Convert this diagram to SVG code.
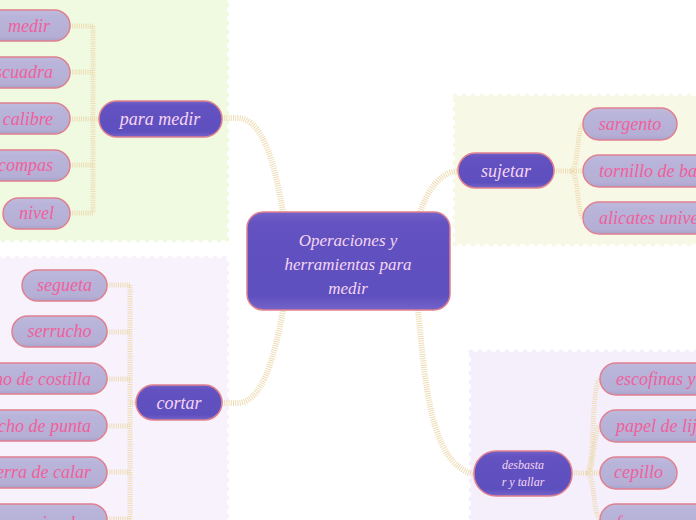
<svg xmlns="http://www.w3.org/2000/svg" width="696" height="520" viewBox="0 0 696 520">
<defs>
<linearGradient id="gMain" x1="0" y1="0" x2="0" y2="1">
<stop offset="0" stop-color="#7262c9"/>
<stop offset="0.12" stop-color="#6352c0"/>
<stop offset="0.85" stop-color="#5e4fbf"/>
<stop offset="1" stop-color="#7464c9"/>
</linearGradient>
<linearGradient id="gSub" x1="0" y1="0" x2="0" y2="1">
<stop offset="0" stop-color="#c0bade"/>
<stop offset="0.2" stop-color="#b9b4d9"/>
<stop offset="0.85" stop-color="#b5afd5"/>
<stop offset="1" stop-color="#a9a2cc"/>
</linearGradient>
<style>
.reg{stroke-width:5;stroke-dasharray:0 9;stroke-linecap:round}
.main{fill:url(#gMain);stroke:#e0808f;stroke-width:1.5}
.sub{fill:url(#gSub);stroke:#e0808f;stroke-width:1.5}
.mt{font-family:"Liberation Serif","DejaVu Serif",serif;font-style:italic;fill:#f6d6f2;text-anchor:middle}
.st{font-family:"Liberation Serif","DejaVu Serif",serif;font-style:italic;fill:#f0609c;font-size:18px}
.con{fill:none;stroke:#eedcb4;stroke-width:6;stroke-dasharray:1 1.2}
.br{fill:none;stroke:#eedcb4;stroke-width:5;stroke-dasharray:1 1.2}
</style>
</defs>
<rect width="696" height="520" fill="#ffffff"/>
<g id="regions">
<rect class="reg" x="-10" y="-10" width="237" height="250" fill="#effae1" stroke="#effae1"/>
<rect class="reg" x="-10" y="258" width="237" height="280" fill="#f7f2fc" stroke="#f7f2fc"/>
<rect class="reg" x="455" y="96" width="250" height="148" fill="#f8f8e6" stroke="#f8f8e6"/>
<rect class="reg" x="471" y="352" width="240" height="180" fill="#f5effc" stroke="#f5effc"/>
</g>
<g id="connectors">
<path class="con" d="M222,118 L237,118 C262,118 274,160 283,212"/>
<path class="con" d="M222,403 L237,403 C262,403 274,360 283,310"/>
<path class="con" d="M420,212 C428,190 440,172 458,171"/>
<path class="con" d="M418,310 C425,380 430,465 474,474"/>
<path class="br" d="M70,26 L93,26 M70,72 L93,72 M70,119 L99,119 M70,165 L93,165 M70,213 L93,213 M93,26 L93,213"/>
<path class="br" d="M107,285 L130,285 M107,332 L130,332 M107,379 L130,379 M107,426 L130,426 M107,472 L130,472 M107,519 L130,519 M130,403 L136,403 M130,285 L130,522"/>
<path class="br" d="M554,171 L583,171 M570,171 C580,171 576,124 584,124 M570,171 C580,171 576,218 584,218"/>
<path class="br" d="M572,473 L600,473 M586,473 C596,473 590,379 601,379 M586,473 C596,473 592,426 601,426 M586,473 C596,473 592,519 601,519"/>
</g>
<g id="central">
<rect class="main" x="247" y="212" width="203" height="98" rx="16"/>
<text class="mt" font-size="17" x="348" y="246">Operaciones y</text>
<text class="mt" font-size="17" x="348" y="270">herramientas para</text>
<text class="mt" font-size="17" x="348" y="294">medir</text>
</g>
<g id="para-medir">
<rect class="main" x="99" y="101" width="123" height="36" rx="18"/>
<text class="mt" font-size="18" x="160" y="125">para medir</text>
</g>
<g id="cortar">
<rect class="main" x="136" y="385" width="86" height="35" rx="17.5"/>
<text class="mt" font-size="18" x="179" y="409">cortar</text>
</g>
<g id="sujetar">
<rect class="main" x="458" y="153" width="96" height="35" rx="17.5"/>
<text class="mt" font-size="18" x="506" y="177">sujetar</text>
</g>
<g id="desbastar">
<rect class="main" x="474" y="451" width="98" height="45" rx="22"/>
<text class="mt" font-size="12" x="523" y="469">desbasta</text>
<text class="mt" font-size="12" x="523" y="486">r y tallar</text>
</g>
<g id="medir-child"><rect class="sub" x="-30" y="10" width="100" height="31" rx="15.5"/><text class="st" x="50" y="32" text-anchor="end">medir</text></g>
<g id="escuadra"><rect class="sub" x="-40" y="57" width="110" height="31" rx="15.5"/><text class="st" x="53" y="78" text-anchor="end">escuadra</text></g>
<g id="calibre"><rect class="sub" x="-30" y="103" width="100" height="31" rx="15.5"/><text class="st" x="53" y="125" text-anchor="end">calibre</text></g>
<g id="compas"><rect class="sub" x="-30" y="150" width="100" height="31" rx="15.5"/><text class="st" x="53" y="171" text-anchor="end">compas</text></g>
<g id="nivel"><rect class="sub" x="3" y="198" width="67" height="31" rx="15.5"/><text class="st" x="36.5" y="219" text-anchor="middle">nivel</text></g>
<g id="segueta"><rect class="sub" x="22" y="270" width="85" height="31" rx="15.5"/><text class="st" x="64.5" y="291" text-anchor="middle">segueta</text></g>
<g id="serrucho"><rect class="sub" x="12" y="316" width="95" height="31" rx="15.5"/><text class="st" x="59.5" y="337" text-anchor="middle">serrucho</text></g>
<g id="costilla"><rect class="sub" x="-80" y="363" width="187" height="31" rx="15.5"/><text class="st" x="91" y="385" text-anchor="end">serrucho de costilla</text></g>
<g id="punta"><rect class="sub" x="-80" y="410" width="187" height="31" rx="15.5"/><text class="st" x="91" y="432" text-anchor="end">serrucho de punta</text></g>
<g id="calar"><rect class="sub" x="-60" y="457" width="167" height="31" rx="15.5"/><text class="st" x="91" y="478" text-anchor="end">sierra de calar</text></g>
<g id="circular"><rect class="sub" x="-60" y="504" width="167" height="31" rx="15.5"/><text class="st" x="91" y="529" text-anchor="end">sierra circular</text></g>
<g id="sargento"><rect class="sub" x="583" y="108" width="94" height="32" rx="16"/><text class="st" x="630" y="130" text-anchor="middle">sargento</text></g>
<g id="tornillo"><rect class="sub" x="583" y="155" width="140" height="32" rx="16"/><text class="st" x="599" y="177">tornillo de banco</text></g>
<g id="alicates"><rect class="sub" x="583" y="202" width="140" height="32" rx="16"/><text class="st" x="599" y="224">alicates universales</text></g>
<g id="escofinas"><rect class="sub" x="600" y="363" width="120" height="32" rx="16"/><text class="st" x="616" y="385">escofinas y limas</text></g>
<g id="lija"><rect class="sub" x="600" y="410" width="120" height="32" rx="16"/><text class="st" x="616" y="432">papel de lija</text></g>
<g id="cepillo"><rect class="sub" x="600" y="457" width="77" height="32" rx="16"/><text class="st" x="638.5" y="478" text-anchor="middle">cepillo</text></g>
<g id="formon"><rect class="sub" x="600" y="504" width="120" height="32" rx="16"/><text class="st" x="616" y="529">formones</text></g>
</svg>
